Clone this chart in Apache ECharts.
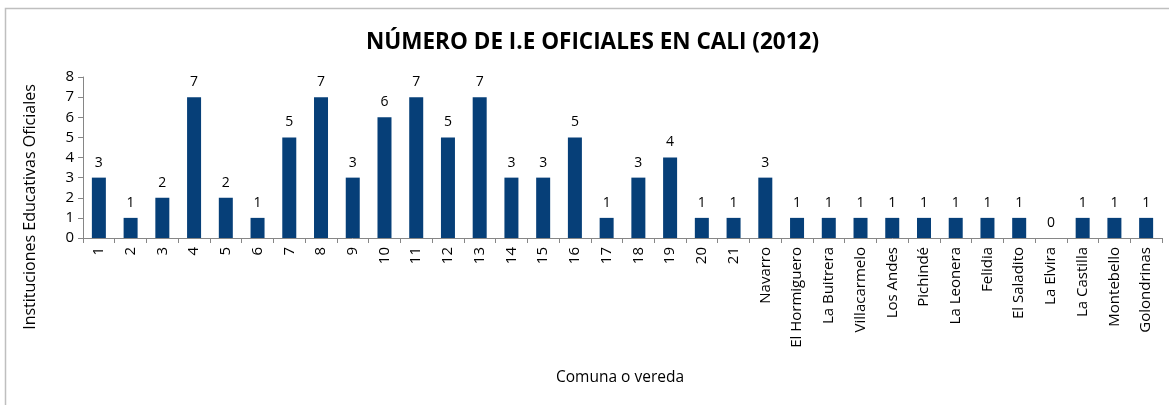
<!DOCTYPE html>
<html><head><meta charset="utf-8">
<script src="https://cdn.jsdelivr.net/npm/echarts@6/dist/echarts.min.js"></script>
<style>html,body{margin:0;padding:0;background:#fff}#c{width:1169px;height:405px}</style>
</head><body><div id="c"></div>
<script>
const categories = ['1','2','3','4','5','6','7','8','9','10','11','12','13','14','15','16','17','18','19','20','21',
  'Navarro','El Hormiguero','La Buitrera','Villacarmelo','Los Andes','Pichindé','La Leonera','Felidia','El Saladito','La Elvira','La Castilla','Montebello','Golondrinas'];
const values = [3,1,2,7,2,1,5,7,3,6,7,5,7,3,3,5,1,3,4,1,1,3,1,1,1,1,1,1,1,1,0,1,1,1];
const yTicks = [0,1,2,3,4,5,6,7,8];
const titleText = 'NÚMERO DE I.E OFICIALES EN CALI (2012)';
const yName = 'Instituciones Educativas Oficiales';
const xName = 'Comuna o vereda';

const FONT = '"Open Sans", Lato, sans-serif';
const chart = echarts.init(document.getElementById('c'), null, {renderer:'canvas'});
chart.setOption({
  animation:false,
  title:{text:titleText, left:361, top:26, textStyle:{fontFamily:FONT, fontWeight:'bold', fontSize:22.5, color:'#000'}},
  grid:{left:83, right:7, top:77, bottom:167, containLabel:false},
  graphic:[
    {type:'rect', shape:{x:5.5,y:8.5,width:1200,height:500}, style:{fill:'none', stroke:'#bfbfbf', lineWidth:1.5}, silent:true},
    {type:'text', x:30, y:207, rotation:Math.PI/2, style:{text:yName, font:'16px '+FONT, fill:'#000', align:'center', verticalAlign:'middle'}},
    {type:'text', x:620, y:378, style:{text:xName, font:'15.5px '+FONT, fill:'#000', align:'center', verticalAlign:'middle'}}
  ],
  xAxis:{type:'category', data:categories, boundaryGap:true,
    axisLine:{lineStyle:{color:'#868686', width:1}},
    axisTick:{show:true, alignWithLabel:false, length:5, lineStyle:{color:'#868686'}},
    axisLabel:{rotate:90, interval:0, fontFamily:FONT, fontSize:15, color:'#000', margin:9}},
  yAxis:{type:'value', min:yTicks[0], max:yTicks[yTicks.length-1], interval:1,
    splitLine:{show:false},
    axisLine:{show:true, lineStyle:{color:'#868686'}},
    axisTick:{show:true, length:5, lineStyle:{color:'#868686'}},
    axisLabel:{fontFamily:FONT, fontSize:15, color:'#000', margin:9}},
  series:[{type:'bar', data:values, barWidth:14,
    itemStyle:{color:'#063f78'},
    label:{show:true, position:'top', distance:8, fontFamily:FONT, fontSize:14, color:'#000'}}]
});
</script></body></html>
